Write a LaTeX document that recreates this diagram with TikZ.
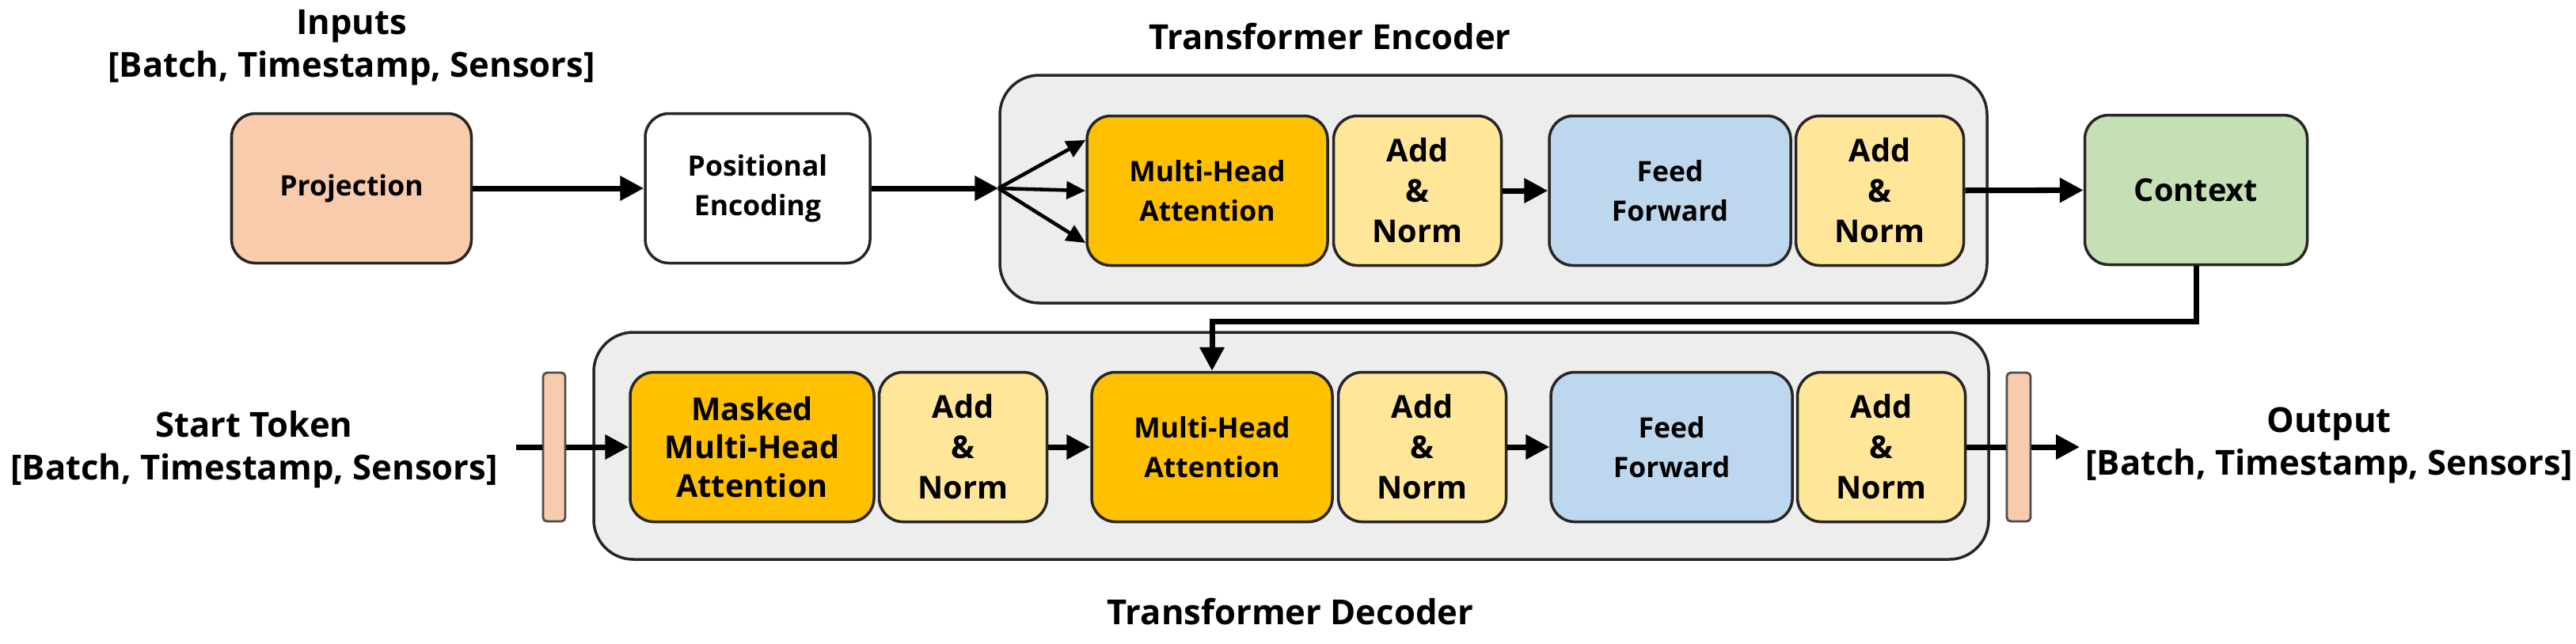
\documentclass[tikz,border=0pt]{standalone}
\usepackage{fontspec}
\setmainfont{Open Sans}
\usepackage{tikz}
\usetikzlibrary{arrows.meta, positioning}
\usepackage{xcolor}
\definecolor{peach}{HTML}{F8CBAD}
\definecolor{attnorange}{HTML}{FFC000}
\definecolor{normyellow}{HTML}{FFE699}
\definecolor{ffblue}{HTML}{BDD7EE}
\definecolor{ctxgreen}{HTML}{C5E0B4}
\definecolor{stackgray}{HTML}{EDEDED}

\begin{document}
\begin{tikzpicture}[
    block/.style={rectangle, draw=black!85, line width=1pt, rounded corners=0.3cm, minimum height=1.89cm, align=center, font=\fontsize{10.1}{14.2}\selectfont\bfseries},
    attn/.style={block, fill=attnorange, minimum width=3.04cm},
    addnorm/.style={block, fill=normyellow, minimum width=2.12cm, font=\fontsize{11.3}{14.5}\selectfont\bfseries},
    ffn/.style={block, fill=ffblue, minimum width=3.05cm},
    stack/.style={rectangle, draw=black!85, line width=1pt, rounded corners=0.5cm, fill=stackgray},
    bar/.style={rectangle, draw=black!70, line width=0.8pt, rounded corners=0.05cm, fill=peach, minimum width=0.28cm, minimum height=1.88cm, inner sep=0pt},
    title/.style={align=center, font=\fontsize{12.4}{15.5}\selectfont\bfseries},
    arrow/.style={-{Triangle[length=0.30cm, width=0.30cm]}, line width=2pt},
    fanarrow/.style={-{Triangle[length=0.24cm, width=0.22cm]}, line width=1.3pt},
    link/.style={line width=2pt}
]
    \useasboundingbox (0,0) rectangle (32.54,-8.13);

    % top row
    \node[block, fill=peach, minimum width=3.03cm] (proj) at (4.44,-2.38) {Projection};
    \node[block, fill=white, minimum width=2.84cm, right=2.16cm of proj] (posenc) {Positional\\Encoding};
    \node[title] (inputs) at (4.44,-0.60) {Inputs\\{}[Batch, Timestamp, Sensors]};

    \node[stack, minimum width=12.47cm, minimum height=2.88cm] (enc) at (18.865,-2.39) {};
    \node[title] (enctitle) at (16.80,-0.46) {Transformer Encoder};
    \node[attn] (encMHA) at (15.25,-2.41) {Multi-Head\\Attention};
    \node[addnorm, right=0.04cm of encMHA] (encAN1) {Add\\\&\\Norm};
    \node[ffn, right=0.57cm of encAN1] (encFF) {Feed\\Forward};
    \node[addnorm, right=0.03cm of encFF] (encAN2) {Add\\\&\\Norm};

    \node[block, fill=ctxgreen, minimum width=2.81cm, font=\fontsize{11.3}{14.5}\selectfont\bfseries] (ctx) at (27.74,-2.40) {Context};

    % bottom row
    \node[stack, minimum width=17.62cm, minimum height=2.87cm] (dec) at (16.31,-5.635) {};
    \node[title] (dectitle) at (16.30,-7.73) {Transformer Decoder};
    \node[attn, minimum width=3.08cm, font=\fontsize{11.3}{13.7}\selectfont\bfseries] (decMMHA) at (9.50,-5.65) {Masked\\Multi-Head\\Attention};
    \node[addnorm, right=0.03cm of decMMHA] (decAN1) {Add\\\&\\Norm};
    \node[attn, right=0.53cm of decAN1] (decMHA) {Multi-Head\\Attention};
    \node[addnorm, right=0.04cm of decMHA] (decAN2) {Add\\\&\\Norm};
    \node[ffn, right=0.53cm of decAN2] (decFF) {Feed\\Forward};
    \node[addnorm, right=0.03cm of decFF] (decAN3) {Add\\\&\\Norm};

    \node[bar] (barIn) at (7.00,-5.65) {};
    \node[bar, minimum width=0.30cm] (barOut) at (25.50,-5.65) {};
    \node[title] (start) at (3.21,-5.68) {Start Token\\{}[Batch, Timestamp, Sensors]};
    \node[title] (output) at (29.42,-5.63) {Output\\{}[Batch, Timestamp, Sensors]};

    \coordinate (tokStart) at (6.52,-5.65);
    \coordinate (outEnd) at (26.27,-5.65);

    % connectors
    \draw[arrow] (proj) -- (posenc);
    \draw[arrow] (posenc.east) -- (posenc.east -| enc.west) coordinate (fan);
    \foreach \dy in {0.64, 0, -0.66}
        \draw[fanarrow] (fan) -- ([yshift=\dy cm]encMHA.west);
    \draw[arrow] (encAN1) -- (encFF);
    \draw[arrow] (encAN2) -- (ctx);
    \draw[arrow] (ctx.south) -- ++(0,-0.70) -| (decMHA.north);

    \draw[link] (tokStart) -- (barIn.west);
    \draw[arrow] (barIn.east) -- (decMMHA.west);
    \draw[arrow] (decAN1) -- (decMHA);
    \draw[arrow] (decAN2) -- (decFF);
    \draw[link] (decAN3) -- (barOut);
    \draw[arrow] (barOut.east) -- (outEnd);
\end{tikzpicture}
\end{document}
